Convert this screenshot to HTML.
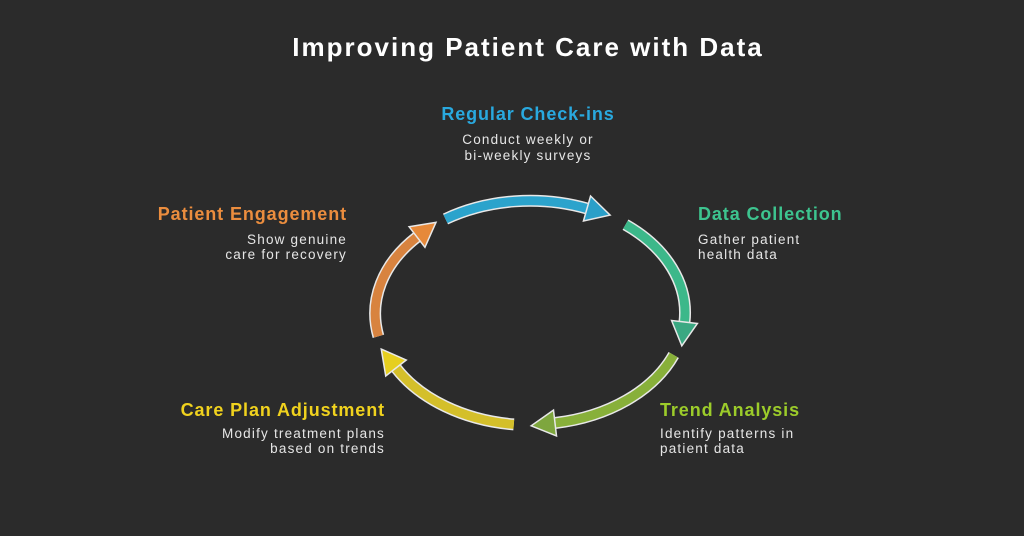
<!DOCTYPE html>
<html><head><meta charset="utf-8"><style>
html,body{margin:0;padding:0;background:#2b2b2b;}
svg{display:block}
text{font-family:"Liberation Sans",sans-serif;}
.t{font-weight:bold;font-size:18px;letter-spacing:0.9px}
.d{font-size:13.5px;fill:#e6e6e6;letter-spacing:1.2px}
</style></head><body>
<svg width="1024" height="536" viewBox="0 0 1024 536" xmlns="http://www.w3.org/2000/svg">
<rect width="1024" height="536" fill="#2b2b2b"/>
<defs>
<marker id="mb" markerUnits="userSpaceOnUse" markerWidth="40" markerHeight="40" refX="2" refY="20" orient="auto"><polygon points="2,7 26,20 2,33" fill="#2b9fc8" stroke="#e8e8e8" stroke-width="1.5"/></marker>
<marker id="mg" markerUnits="userSpaceOnUse" markerWidth="40" markerHeight="40" refX="2" refY="20" orient="auto"><polygon points="2,7 26,20 2,33" fill="#3aa882" stroke="#e8e8e8" stroke-width="1.5"/></marker>
<marker id="ml" markerUnits="userSpaceOnUse" markerWidth="40" markerHeight="40" refX="2" refY="20" orient="auto"><polygon points="2,7 26,20 2,33" fill="#7ea63e" stroke="#e8e8e8" stroke-width="1.5"/></marker>
<marker id="my" markerUnits="userSpaceOnUse" markerWidth="40" markerHeight="40" refX="2" refY="20" orient="auto"><polygon points="2,7 26,20 2,33" fill="#e6cf1f" stroke="#e8e8e8" stroke-width="1.5"/></marker>
<marker id="mo" markerUnits="userSpaceOnUse" markerWidth="40" markerHeight="40" refX="2" refY="20" orient="auto"><polygon points="2,7 26,20 2,33" fill="#e6893a" stroke="#e8e8e8" stroke-width="1.5"/></marker>
</defs>
<g fill="none">
<path d="M445.5,219 A155,112 0 0 1 587,208.5" stroke="#e8e8e8" stroke-width="12"/>
<path d="M445.5,219 A155,112 0 0 1 587,208.5" stroke="#2ba3cc" stroke-width="9" marker-end="url(#mb)"/>
<path d="M625.5,224.7 A155,112 0 0 1 684.5,322" stroke="#e8e8e8" stroke-width="12"/>
<path d="M625.5,224.7 A155,112 0 0 1 684.5,322" stroke="#3cb88a" stroke-width="9" marker-end="url(#mg)"/>
<path d="M673.7,355 A155,112 0 0 1 555,423" stroke="#e8e8e8" stroke-width="12"/>
<path d="M673.7,355 A155,112 0 0 1 555,423" stroke="#88b03a" stroke-width="9" marker-end="url(#ml)"/>
<path d="M513.8,424.4 A155,112 0 0 1 396,368" stroke="#e8e8e8" stroke-width="12"/>
<path d="M513.8,424.4 A155,112 0 0 1 396,368" stroke="#d4bf2a" stroke-width="9" marker-end="url(#my)"/>
<path d="M378.4,336.3 A155,112 0 0 1 417,237" stroke="#e8e8e8" stroke-width="12"/>
<path d="M378.4,336.3 A155,112 0 0 1 417,237" stroke="#d8833f" stroke-width="9" marker-end="url(#mo)"/>
</g>
<text x="528" y="56" text-anchor="middle" fill="#ffffff" font-weight="bold" font-size="26" letter-spacing="2">Improving Patient Care with Data</text>
<text class="t" x="528" y="120" text-anchor="middle" fill="#29a9df">Regular Check-ins</text>
<text class="d" x="528" y="144" text-anchor="middle">Conduct weekly or</text>
<text class="d" x="528" y="160" text-anchor="middle">bi-weekly surveys</text>
<text class="t" x="698" y="220" fill="#3dc48f">Data Collection</text>
<text class="d" x="698" y="244">Gather patient</text>
<text class="d" x="698" y="259">health data</text>
<text class="t" x="347" y="220" text-anchor="end" fill="#eb8d3e">Patient Engagement</text>
<text class="d" x="347" y="244" text-anchor="end">Show genuine</text>
<text class="d" x="347" y="259" text-anchor="end">care for recovery</text>
<text class="t" x="385" y="416" text-anchor="end" fill="#f0d21e">Care Plan Adjustment</text>
<text class="d" x="385" y="438" text-anchor="end">Modify treatment plans</text>
<text class="d" x="385" y="453" text-anchor="end">based on trends</text>
<text class="t" x="660" y="416" fill="#9ccc2a">Trend Analysis</text>
<text class="d" x="660" y="438">Identify patterns in</text>
<text class="d" x="660" y="453">patient data</text>
</svg>
</body></html>
